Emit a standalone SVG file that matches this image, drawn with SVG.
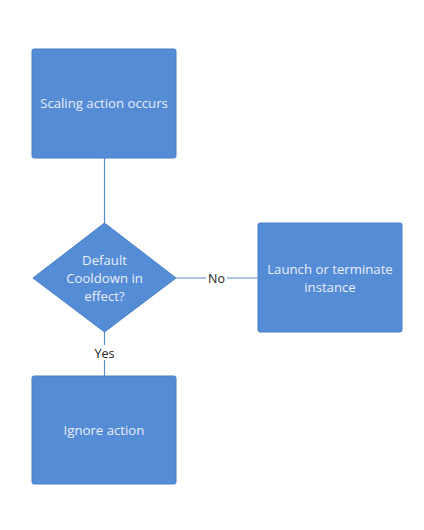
<svg xmlns="http://www.w3.org/2000/svg" width="424" height="530" viewBox="0 0 424 530">
<style>
.box{fill:#558cd6;stroke:#4a7fc6;stroke-width:1}
.t{font-family:"Open Sans","Noto Sans",sans-serif;font-size:13.2px;fill:#e8eefa;text-anchor:middle}
.l{font-family:"Open Sans","Noto Sans",sans-serif;font-size:12.5px;fill:#222;text-anchor:middle}
.c{stroke:#5a8bd0;stroke-width:1.2;fill:none}
</style>
<rect width="424" height="530" fill="#fff"/>
<g id="connectors">
<line class="c" x1="104.5" y1="158" x2="104.5" y2="223"/>
<line class="c" x1="176" y1="278" x2="258" y2="278"/>
<line class="c" x1="104.5" y1="332" x2="104.5" y2="376"/>
<rect x="206" y="270" width="21" height="15" fill="#fff"/>
<text class="l" x="216.5" y="282.5">No</text>
<rect x="91" y="345" width="27" height="15" fill="#fff"/>
<text class="l" x="104.5" y="357.5">Yes</text>
</g>
<g id="scaling">
<rect class="box" x="32" y="49" width="144" height="109" rx="2"/>
<text class="t" x="104" y="107.5">Scaling action occurs</text>
</g>
<g id="cooldown">
<polygon class="box" points="104.5,223 176,278 104.5,332 33,278"/>
<text class="t" x="104.5" y="264.5">Default</text>
<text class="t" x="104.5" y="282.5">Cooldown in</text>
<text class="t" x="104.5" y="300.5">effect?</text>
</g>
<g id="launch">
<rect class="box" x="258" y="223" width="144" height="109" rx="2"/>
<text class="t" x="330" y="273.5">Launch or terminate</text>
<text class="t" x="330" y="291.5">instance</text>
</g>
<g id="ignore">
<rect class="box" x="32" y="376" width="144" height="108" rx="2"/>
<text class="t" x="104" y="434.5">Ignore action</text>
</g>
</svg>
